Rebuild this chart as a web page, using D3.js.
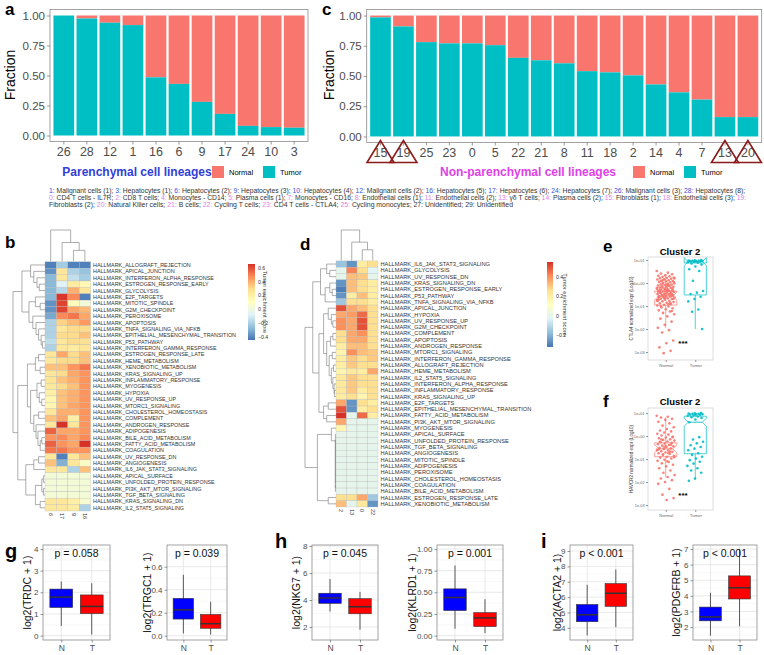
<!DOCTYPE html>
<html><head><meta charset="utf-8">
<script src="https://cdn.jsdelivr.net/npm/d3@7"></script>
<style>body{margin:0;background:#fff}</style>
</head><body>
<script>
// ---------------- DATA ----------------
const aClusters = ['26','28','12','1','16','6','9','17','24','10','3'];
const aTumorFraction = [1.0,0.975,0.94,0.92,0.485,0.43,0.28,0.18,0.08,0.07,0.065];
const cClusters = ['15','19','25','23','0','5','22','21','8','11','18','2','14','4','7','13','20'];
const cTumorFraction = [0.985,0.91,0.78,0.77,0.77,0.755,0.65,0.63,0.605,0.54,0.53,0.505,0.43,0.365,0.305,0.16,0.16];
const cHighlighted = ['15','19','13','20'];
const fractionTicks = [0,0.25,0.5,0.75,1];

const parenchymal = [['1','Malignant cells (1)'],['3','Hepatocytes (1)'],['6','Hepatocytes (2)'],['9','Hepatocytes (3)'],['10','Hepatocytes (4)'],['12','Malignant cells (2)'],['16','Hepatocytes (5)'],['17','Hepatocytes (6)'],['24','Hepatocytes (7)'],['26','Malignant cells (3)'],['28','Hepatocytes (8)']];
const nonParenchymal = [['0','CD4 T cells - IL7R'],['2','CD8 T cells'],['4','Monocytes - CD14'],['5','Plasma cells (1)'],['7','Monocytes - CD16'],['8','Endothelial cells (1)'],['11','Endothelial cells (2)'],['13','γδ T cells'],['14','Plasma cells (2)'],['15','Fibroblasts (1)'],['18','Endothelial cells (3)'],['19','Fibroblasts (2)'],['20','Natural Killer cells'],['21','B cells'],['22','Cycling T cells'],['23','CD4 T cells - CTLA4'],['25','Cycling monocytes']];
const unidentified = [['27','Unidentified'],['29','Unidentified']];

const bRows = ['ALLOGRAFT_REJECTION','APICAL_JUNCTION','INTERFERON_ALPHA_RESPONSE','ESTROGEN_RESPONSE_EARLY','GLYCOLYSIS','E2F_TARGETS','MITOTIC_SPINDLE','G2M_CHECKPOINT','PEROXISOME','APOPTOSIS','TNFA_SIGNALING_VIA_NFKB','EPITHELIAL_MESENCHYMAL_TRANSITION','P53_PATHWAY','INTERFERON_GAMMA_RESPONSE','ESTROGEN_RESPONSE_LATE','HEME_METABOLISM','XENOBIOTIC_METABOLISM','KRAS_SIGNALING_UP','INFLAMMATORY_RESPONSE','MYOGENESIS','HYPOXIA','UV_RESPONSE_UP','MTORC1_SIGNALING','CHOLESTEROL_HOMEOSTASIS','COMPLEMENT','ANDROGEN_RESPONSE','ADIPOGENESIS','BILE_ACID_METABOLISM','FATTY_ACID_METABOLISM','COAGULATION','UV_RESPONSE_DN','ANGIOGENESIS','IL6_JAK_STAT3_SIGNALING','APICAL_SURFACE','UNFOLDED_PROTEIN_RESPONSE','PI3K_AKT_MTOR_SIGNALING','TGF_BETA_SIGNALING','KRAS_SIGNALING_DN','IL2_STAT5_SIGNALING'];
const bCols = ['6','17','9','16'];
const bValues = [
[-0.42,-0.22,-0.42,-0.42],[-0.38,0.25,-0.2,-0.25],[-0.28,0.25,-0.15,-0.22],[-0.28,-0.08,0.22,0.15],
[-0.28,-0.18,0.4,0.25],[-0.28,0.65,0.48,-0.42],[-0.38,0.62,0.12,0.02],[-0.38,0.62,0.42,0.38],
[-0.32,0.48,0.52,0.42],[-0.2,0.32,0.38,0.45],[-0.2,0.25,0.3,0.3],[-0.2,0.3,0.3,0.36],
[-0.16,0.25,0.3,0.28],[-0.2,0.25,0.22,0.26],[0.25,0.42,0.3,0.36],[0.24,0.3,0.3,0.36],
[0.36,0.36,0.46,0.52],[0.25,0.3,0.42,0.46],[0.26,0.36,0.4,0.46],[0.24,0.3,0.36,0.46],
[0.2,0.36,0.4,0.46],[0.16,0.36,0.4,0.46],[0.16,0.36,0.42,0.46],[0.25,0.4,0.4,0.46],
[0.36,0.42,0.2,0.46],[0.25,0.66,0.25,0.46],[0.56,0.42,0.42,0.46],[0.46,0.48,0.42,0.48],
[0.56,0.46,0.42,0.66],[0.52,0.52,0.46,0.46],[0.25,-0.42,0.25,0.36],[0.36,-0.3,0.25,0.08],
[0.25,0.25,-0.2,0.36],[0.03,0.03,0.03,0.03],[0.03,0.03,0.03,0.03],[0.03,0.03,0.03,0.03],
[0.03,0.03,0.03,0.03],[0.25,0.25,0.2,0.05],[0.25,0.25,0.22,-0.2]];
const bRange = [-0.45,0.66];
const bLegendTicks = [-0.4,-0.2,0,0.2,0.4,0.6];
const bRowTree = [1.0,
  [0.72,[0.45,0,[0.35,1,[0.25,2,[0.18,3,4]]]],[0.5,[0.3,5,[0.15,6,7]],[0.38,8,[0.28,9,[0.2,10,[0.12,11,[0.08,12,13]]]]]]],
  [0.85,[0.55,[0.3,[0.2,14,15],[0.15,16,17]],[0.45,[0.25,[0.12,18,19],[0.18,20,[0.1,21,22]]],[0.35,[0.2,23,24],[0.28,25,[0.22,26,[0.15,[0.1,27,28],29]]]]]],
        [0.6,[0.35,[0.2,30,31],32],[0.3,[0.1,[0.05,33,34],[0.05,35,36]],[0.15,37,38]]]]];
const colTree = [1.0,0,[0.6,1,[0.35,2,3]]];

const dRows = ['IL6_JAK_STAT3_SIGNALING','GLYCOLYSIS','UV_RESPONSE_DN','KRAS_SIGNALING_DN','ESTROGEN_RESPONSE_EARLY','P53_PATHWAY','TNFA_SIGNALING_VIA_NFKB','APICAL_JUNCTION','HYPOXIA','UV_RESPONSE_UP','G2M_CHECKPOINT','COMPLEMENT','APOPTOSIS','ANDROGEN_RESPONSE','MTORC1_SIGNALING','INTERFERON_GAMMA_RESPONSE','ALLOGRAFT_REJECTION','HEME_METABOLISM','IL2_STAT5_SIGNALING','INTERFERON_ALPHA_RESPONSE','INFLAMMATORY_RESPONSE','KRAS_SIGNALING_UP','E2F_TARGETS','EPITHELIAL_MESENCHYMAL_TRANSITION','FATTY_ACID_METABOLISM','PI3K_AKT_MTOR_SIGNALING','MYOGENESIS','APICAL_SURFACE','UNFOLDED_PROTEIN_RESPONSE','TGF_BETA_SIGNALING','ANGIOGENESIS','MITOTIC_SPINDLE','ADIPOGENESIS','PEROXISOME','CHOLESTEROL_HOMEOSTASIS','COAGULATION','BILE_ACID_METABOLISM','ESTROGEN_RESPONSE_LATE','XENOBIOTIC_METABOLISM'];
const dCols = ['2','13','0','22'];
const dValues = [
[-0.16,-0.26,0.2,0.26],[0.0,0.42,0.26,-0.02],[0.0,0.32,0.3,0.0],[-0.26,0.32,0.26,0.2],
[-0.3,0.32,0.26,0.2],[-0.26,0.2,0.32,0.2],[-0.15,0.26,0.26,0.2],[0.5,0.36,0.32,0.26],
[0.36,0.38,0.46,0.26],[0.4,0.36,0.5,0.26],[0.4,0.36,0.5,0.26],[0.26,0.36,0.4,0.26],
[0.26,0.36,0.36,0.26],[0.2,0.32,0.32,0.26],[0.16,0.4,0.32,0.3],[0.2,0.3,0.26,0.3],
[0.2,0.3,0.26,0.26],[0.16,0.22,0.2,0.36],[0.22,0.3,0.26,0.26],[0.22,0.3,0.26,0.26],
[0.22,0.3,0.2,0.26],[0.2,0.26,0.16,0.26],[0.36,-0.26,0.26,0.2],[0.5,-0.26,0.2,0.26],
[0.55,0.0,0.46,0.2],[0.36,0.0,0.0,0.0],[0.16,0.0,0.0,0.0],[0,0,0,0],[0,0,0,0],[0,0,0,0],
[0,0,0,0],[0,0,0,0],[0,0,0,0],[0,0,0,0],[0,0,0,0],[0,0,0,0],[0,0,0,0],
[0.26,0.26,0.36,-0.15],[0.32,0.0,0.22,-0.26]];
const dRange = [-0.32,0.55];
const dLegendTicks = [-0.2,0,0.2,0.4];
const dRowTree = [1.0,
  [0.75,[0.5,[0.3,0,[0.2,1,2]],[0.35,[0.2,3,[0.12,4,5]],6]],
        [0.55,[0.4,[0.25,7,[0.15,8,[0.1,9,10]]],[0.3,[0.18,[0.1,11,12],13],[0.22,[0.12,14,15],[0.15,[0.08,16,17],[0.1,18,[0.06,19,[0.05,20,21]]]]]]],[0.4,[0.25,22,23],[0.3,24,25]]]],
  [0.6,[0.15,26,[0.02,27,[0.02,28,[0.02,29,[0.02,30,[0.02,31,[0.02,32,[0.02,33,[0.02,34,[0.02,35,36]]]]]]]]]],[0.25,37,38]]];

// e / f : log10 normalized expression
const eNormal = [0.52,0.45,0.41,0.38,0.33,0.31,0.29,0.27,0.24,0.22,0.21,0.18,0.16,0.15,0.12,0.1,0.09,0.07,0.05,0.03,0.01,-0.02,-0.04,-0.06,-0.07,-0.09,-0.11,-0.13,-0.14,-0.16,-0.18,-0.2,-0.21,-0.23,-0.25,-0.27,-0.28,-0.3,-0.32,-0.34,-0.36,-0.37,-0.39,-0.41,-0.43,-0.45,-0.46,-0.48,-0.5,-0.52,-0.54,-0.56,-0.58,-0.6,-0.62,-0.63,-0.66,-0.68,-0.7,-0.73,-0.75,-0.77,-0.8,-0.83,-0.86,-0.88,-0.91,-0.95,-0.98,-1.02,-1.06,-1.1,-1.14,-1.19,-1.24,-1.3,-1.36,-1.45,-1.55,-1.68,-1.82,-1.95,-2.05,-2.15,-2.5,-2.62,-2.8,-2.95,-3.05,
  -0.22,-0.35,-0.44,-0.51,-0.64,-0.71,-0.12,-0.03,0.04,-0.29,-0.4,-0.55,-0.67,-0.78,-0.92,-0.19,-0.33,-0.47,-0.61,-0.85,0.14,0.2,-0.08,-1.0,-1.22,
  -0.26,-0.38,-0.49,-0.57,-0.69,-0.15,-0.31,-0.42,-0.53,-0.74,-0.05,0.08,-0.24,-0.36,-0.6];
const eTumor = [1.0,0.99,0.98,0.97,0.97,0.96,0.95,0.94,0.93,0.92,0.9,0.88,0.85,0.8,0.72,0.6,0.52,0.1,-0.35,-0.42,-0.48,-0.6,-0.7,-0.8,-1.15,-1.25,-2.0];
const eBoxNormal = [-1.95,-0.96,-0.57,-0.35,0.39];
const eBoxTumor = [-2.0,-0.52,0.93,0.87,1.0];
const fNormal = [0.88,0.84,0.8,0.75,0.7,0.62,0.55,0.45,0.38,0.3,0.24,0.2,0.15,0.1,0.06,0.02,-0.03,-0.07,-0.1,-0.14,-0.17,-0.2,-0.24,-0.27,-0.3,-0.33,-0.36,-0.39,-0.42,-0.45,-0.48,-0.51,-0.54,-0.57,-0.6,-0.63,-0.66,-0.69,-0.72,-0.75,-0.78,-0.82,-0.86,-0.9,-0.94,-0.98,-1.03,-1.08,-1.13,-1.19,-1.25,-1.32,-1.4,-1.5,-1.6,-1.7,-1.78,-1.85,-1.92,-2.0,-2.08,-2.3,-2.55,-2.7,-2.78,
  -0.25,-0.38,-0.5,-0.62,-0.74,-0.15,-0.05,-0.44,-0.56,-0.68,-0.8,-0.92,-1.1];
const fTumor = [1.0,0.99,0.98,0.97,0.96,0.95,0.94,0.93,0.92,0.9,0.88,0.85,0.82,0.78,0.72,0.6,-0.05,-0.15,-0.25,-0.32,-0.4,-0.48,-0.55,-0.62,-0.75,-0.82,-0.9,-0.98,-1.05,-1.12,-1.2,-1.3,-1.4,-1.5,-1.6,-1.85,-1.95];
const fBoxNormal = [-1.8,-0.9,-0.56,-0.3,0.82];
const fBoxTumor = [-1.9,-0.77,0.6,0.86,1.0];
const logTicks = [0.001,0.01,0.1,1,10];
const logTickLabels = ['1e-03','1e-02','1e-01','1e+00','1e+01'];

// g / h / i boxplots: [lowerWhisker, Q1, median, Q3, upperWhisker]
const boxGenes = ['TRDC','TRGC1','NKG7','KLRD1','ACTA2','PDGFRB'];
const boxPvalues = ['p = 0.058','p = 0.039','p = 0.045','p = 0.001','p < 0.001','p < 0.001'];
const boxStatsN = [[0.45,1.3,1.78,2.15,2.5],[0.02,0.145,0.225,0.325,0.53],[3.15,3.75,4.15,4.5,5.55],[0.08,0.29,0.44,0.54,0.81],[3.5,4.4,4.85,5.52,6.8],[1.45,2.4,2.65,3.28,4.2]];
const boxStatsT = [[0.05,1.02,1.35,1.88,2.42],[0.01,0.065,0.105,0.185,0.295],[1.8,2.98,3.5,4.1,4.6],[0.03,0.105,0.205,0.265,0.42],[4.05,5.4,6.25,6.88,7.8],[2.05,3.8,4.52,5.28,7.0]];
const boxTicks = [[0,1,2,3,4],[0,0.2,0.4,0.6],[2,4,6,8],[0,0.25,0.5,0.75,1],[4,5,6,7,8,9],[2,3,4,5,6,7]];
const boxTickFormats = ['d','.1f','d','.2f','d','d'];
const boxDomains = [[-0.2,4.185],[-0.037,0.789],[1.04,8.07],[-0.05,1.046],[3.21,9.39],[1.17,7.26]];

// ---------------- DRAWING ----------------
const FONT = '"Liberation Sans", Arial, Helvetica, sans-serif';
const NORMAL = '#F8766D', TUMOR = '#00BFC4';
const svg = d3.select('body').append('svg').attr('width',764).attr('height',655)
  .attr('font-family',FONT).style('background','#fff');

function label(t,x,y,size){
  svg.append('text').attr('x',x).attr('y',y).attr('font-size',size).attr('font-weight','bold').attr('fill','#000').text(t);
}
function styleAxis(g,fs,col){
  g.select('.domain').remove();
  g.selectAll('text').attr('font-size',fs).attr('fill',col).attr('font-family',FONT);
  g.selectAll('line').attr('stroke','#333').attr('stroke-width',0.5);
}

// ---- fraction bar panels (a, c)
function fractionPanel(o){
  const x = d3.scaleBand().domain(o.clusters).range([o.x0,o.x1]).paddingInner(0.1).paddingOuter(0.15);
  const y = d3.scaleLinear().domain([-0.05,1.05]).range(o.yRange);
  svg.append('rect').attr('x',o.x0).attr('y',y(1.05)).attr('width',o.x1-o.x0).attr('height',y(-0.05)-y(1.05))
    .attr('fill','#fff').attr('stroke','#8c8c8c').attr('stroke-width',0.8);
  const bars = svg.append('g');
  bars.selectAll('rect.n').data(o.clusters).join('rect')
    .attr('x',d=>x(d)).attr('width',x.bandwidth()).attr('y',y(1))
    .attr('height',(d,i)=>y(o.values[i])-y(1)).attr('fill',NORMAL);
  bars.selectAll('rect.t').data(o.clusters).join('rect')
    .attr('x',d=>x(d)).attr('width',x.bandwidth()).attr('y',(d,i)=>y(o.values[i]))
    .attr('height',(d,i)=>y(0)-y(o.values[i])).attr('fill',TUMOR);
  const ay = svg.append('g').attr('transform',`translate(${o.x0},0)`)
    .call(d3.axisLeft(y).tickValues(fractionTicks).tickFormat(d3.format('.2f')).tickSize(3).tickPadding(2));
  styleAxis(ay,11.5,'#4d4d4d');
  const ax = svg.append('g').attr('transform',`translate(0,${y(-0.05)})`)
    .call(d3.axisBottom(x).tickSize(3).tickPadding(3));
  styleAxis(ax,12.5,'#4d4d4d');
  (o.highlight||[]).forEach(c=>{
    const cx = x(c)+x.bandwidth()/2;
    svg.append('path').attr('d',`M${cx},${y(-0.05)-2}L${cx-13.5},${y(-0.05)+20}L${cx+13.5},${y(-0.05)+20}Z`)
      .attr('fill','none').attr('stroke','#8B1A1A').attr('stroke-width',1.6);
  });
  svg.append('text').attr('transform',`translate(${o.ylabX},75) rotate(-90)`).attr('text-anchor','middle')
    .attr('font-size',14).attr('fill','#000').text('Fraction');
  svg.append('text').attr('x',o.titleX).attr('y',176).attr('text-anchor','middle').attr('font-size',12)
    .attr('font-weight','bold').attr('fill',o.titleColor).text(o.title);
  svg.append('rect').attr('x',o.legX).attr('y',166).attr('width',12).attr('height',12).attr('fill',NORMAL);
  svg.append('text').attr('x',o.legX+17).attr('y',175).attr('font-size',7.5).attr('fill','#000').text('Normal');
  svg.append('rect').attr('x',o.legX+51).attr('y',166).attr('width',12).attr('height',12).attr('fill',TUMOR);
  svg.append('text').attr('x',o.legX+68).attr('y',175).attr('font-size',7.5).attr('fill','#000').text('Tumor');
}
label('a',5,15,17);
fractionPanel({clusters:aClusters,values:aTumorFraction,x0:50,x1:308,yRange:[141.5,9.5],ylabX:15,
  title:'Parenchymal cell lineages',titleColor:'#3040D8',titleX:137,legX:212});
label('c',322,15,17);
fractionPanel({clusters:cClusters,values:cTumorFraction,x0:366.7,x1:761.7,yRange:[142.5,9.5],ylabX:334,
  title:'Non-parenchymal cell lineages',titleColor:'#E040E8',titleX:528,legX:633,highlight:cHighlighted});

// ---- cluster legend text
(function(){
  const PB='#3A50D9', NP='#E07FE8', TX='#333';
  const segs=[];
  parenchymal.forEach(([n,t])=>{segs.push([n+': ',PB,1]);segs.push([t+'; ',TX,1]);});
  let line=2;
  nonParenchymal.forEach(([n,t])=>{
    segs.push([n+': ',NP,line]);
    if(n==='19') line=3;
    segs.push([t+'; ',TX,line]);
  });
  unidentified.forEach(([n,t],i)=>{segs.push([n+': ',TX,3]);segs.push([t+(i<unidentified.length-1?'; ':''),TX,3]);});
  const lines=[{y:192.5,len:698},{y:199.5,len:699},{y:206.5,len:464}];
  lines.forEach((L,li)=>{
    const t=svg.append('text').attr('x',49).attr('y',L.y).attr('font-size',6.3).attr('fill',TX).attr('xml:space','preserve');
    if(L.len) t.attr('textLength',L.len).attr('lengthAdjust','spacingAndGlyphs');
    segs.filter(s=>s[2]===li+1).forEach(s=>t.append('tspan').attr('fill',s[1]).text(s[0]));
  });
})();

// ---- heatmaps
const PAL=['#4575B4','#91BFDB','#E0F3F8','#FFFFBF','#FEE090','#FC8D59','#D73027'];
function heatmap(o){
  const color = d3.scaleLinear().domain(d3.range(7).map(i=>o.range[0]+(o.range[1]-o.range[0])*i/6)).range(PAL);
  const xs = d3.scaleBand().domain(o.cols).range([o.x0,o.x0+o.cw*o.cols.length]);
  const ys = d3.scaleBand().domain(o.rows).range([o.y0,o.y0+o.rh*o.rows.length]);
  const g=svg.append('g');
  o.rows.forEach((r,i)=>{
    g.selectAll(null).data(o.values[i]).join('rect')
      .attr('x',(d,j)=>xs(o.cols[j])).attr('y',ys(r)).attr('width',xs.bandwidth()).attr('height',ys.bandwidth())
      .attr('fill',d=>color(d)).attr('stroke','#b5b5b5').attr('stroke-width',0.3);
  });
  g.selectAll('text.r').data(o.rows).join('text').attr('x',o.x0+o.cw*o.cols.length+2.5)
    .attr('y',d=>ys(d)+ys.bandwidth()/2).attr('dominant-baseline','central').attr('font-size',o.fs)
    .attr('fill','#333').text(d=>'HALLMARK_'+d);
  const yb=o.y0+o.rh*o.rows.length;
  g.selectAll('text.c').data(o.cols).join('text')
    .attr('transform',d=>`translate(${xs(d)+xs.bandwidth()/2},${yb+2}) rotate(90)`)
    .attr('dominant-baseline','central').attr('font-size',5.5).attr('fill','#333').text(d=>d);
  const hx = d3.scaleLinear().domain([0,1]).range([o.x0,o.treeX]);
  const leafY = i=>ys(o.rows[i])+ys.bandwidth()/2;
  let path='';
  (function rec(n){
    if(typeof n==='number') return {p:leafY(n),h:0};
    const A=rec(n[1]),B=rec(n[2]); const xn=hx(n[0]);
    path+=`M${hx(A.h)},${A.p}H${xn}V${B.p}H${hx(B.h)}`;
    return {p:(A.p+B.p)/2,h:n[0]};
  })(o.rowTree);
  const hy = d3.scaleLinear().domain([0,1]).range([o.y0-0.5,o.treeY]);
  const leafX = j=>xs(o.cols[j])+xs.bandwidth()/2;
  (function rec(n){
    if(typeof n==='number') return {p:leafX(n),h:0};
    const A=rec(n[1]),B=rec(n[2]); const yn=hy(n[0]);
    path+=`M${A.p},${hy(A.h)}V${yn}H${B.p}V${hy(B.h)}`;
    return {p:(A.p+B.p)/2,h:n[0]};
  })(o.colTree);
  g.append('path').attr('d',path).attr('fill','none').attr('stroke','#777').attr('stroke-width',0.6);
  const ly = d3.scaleLinear().domain(o.range).range([o.legY1,o.legY0]);
  const gid='grad'+o.id;
  const grad=svg.append('defs').append('linearGradient').attr('id',gid).attr('x1',0).attr('y1',1).attr('x2',0).attr('y2',0);
  PAL.forEach((c,i)=>grad.append('stop').attr('offset',i/6).attr('stop-color',c));
  g.append('rect').attr('x',o.legX).attr('y',o.legY0).attr('width',o.legW).attr('height',o.legY1-o.legY0).attr('fill',`url(#${gid})`);
  g.selectAll('text.l').data(o.legTicks).join('text').attr('x',o.legX+o.legW+3).attr('y',d=>ly(d))
    .attr('dominant-baseline','central').attr('font-size',5.2).attr('fill','#333').text(d=>d===0?'0':d3.format('.1f')(d));
  g.append('text').attr('transform',`translate(${o.legTitleX},${(o.legY0+o.legY1)/2}) rotate(90)`)
    .attr('text-anchor','middle').attr('font-size',5.8).attr('fill','#333').text('Tumor enrichment score');
}
label('b',5,248,17);
heatmap({id:'b',rows:bRows,cols:bCols,values:bValues,range:bRange,x0:45,cw:11.4,y0:261.8,rh:6.39,fs:5.4,
  treeX:13,treeY:230,rowTree:bRowTree,colTree:colTree,legX:248,legW:7,legY0:264,legY1:340,legTicks:bLegendTicks,legTitleX:263});
label('d',300,250,17);
heatmap({id:'d',rows:dRows,cols:dCols,values:dValues,range:dRange,x0:336,cw:10.5,y0:260.9,rh:6.31,fs:5.7,
  treeX:305,treeY:230,rowTree:dRowTree,colTree:colTree,legX:547,legW:6,legY0:262,legY1:347,legTicks:dLegendTicks,legTitleX:563});

// ---- e / f scatter boxplots
function notchBox(g,cx,w,y,s,col){
  const x0=cx-w/2,x1=cx+w/2,n=4,ind=4;
  const q1=y(Math.pow(10,s[1])),md=y(Math.pow(10,s[2])),q3=y(Math.pow(10,s[3]));
  const hi=y(Math.pow(10,s[4])),lo=y(Math.pow(10,s[0]));
  g.append('line').attr('x1',cx).attr('x2',cx).attr('y1',hi).attr('y2',q3).attr('stroke',col).attr('stroke-width',0.7);
  g.append('line').attr('x1',cx).attr('x2',cx).attr('y1',q1).attr('y2',lo).attr('stroke',col).attr('stroke-width',0.7);
  g.append('path').attr('d',`M${x0},${q3}H${x1}V${md-n}L${x1-ind},${md}L${x1},${md+n}V${q1}H${x0}V${md+n}L${x0+ind},${md}L${x0},${md-n}Z`)
    .attr('fill','none').attr('stroke',col).attr('stroke-width',0.7);
  g.append('line').attr('x1',x0+ind).attr('x2',x1-ind).attr('y1',md).attr('y2',md).attr('stroke',col).attr('stroke-width',0.9);
}
function clusterPanel(o){
  const g=svg.append('g');
  const x=d3.scalePoint().domain(['Normal','Tumor']).range([648,713]).padding(0.6);
  const y=d3.scaleLog().domain([0.001,10]).range([o.y3,o.y1]);
  g.append('rect').attr('x',648).attr('y',o.top).attr('width',65).attr('height',o.bot-o.top).attr('fill','#fff').attr('stroke','#cfcfcf').attr('stroke-width',0.7);
  const bw=x.step()*0.75;
  notchBox(g,x('Normal'),bw,y,o.boxN,NORMAL);
  notchBox(g,x('Tumor'),bw,y,o.boxT,TUMOR);
  const jit=i=>(((i*0.6180339887)%1)-0.5)*18;
  g.selectAll('circle.n').data(o.normal).join('circle').attr('cx',(d,i)=>x('Normal')+jit(i)).attr('cy',d=>y(Math.pow(10,d)))
    .attr('r',1.3).attr('fill',NORMAL).attr('opacity',0.9);
  g.selectAll('circle.t').data(o.tumor).join('circle').attr('cx',(d,i)=>x('Tumor')+jit(i+3)*0.9).attr('cy',d=>y(Math.pow(10,d)))
    .attr('r',1.3).attr('fill',TUMOR).attr('opacity',0.9);
  const ay=g.append('g').attr('transform','translate(648,0)').call(d3.axisLeft(y).tickValues(logTicks).tickFormat((d,i)=>logTickLabels[i]).tickSize(2).tickPadding(1.5));
  styleAxis(ay,3.8,'#666');
  const ax=g.append('g').attr('transform',`translate(0,${o.bot})`).call(d3.axisBottom(x).tickSize(2).tickPadding(1.5));
  styleAxis(ax,4.3,'#666');
  g.append('text').attr('x',680).attr('y',o.titleY).attr('text-anchor','middle').attr('font-size',9.5).attr('font-weight','bold').text('Cluster 2');
  g.append('text').attr('transform',`translate(633,${(o.top+o.bot)/2}) rotate(-90)`).attr('text-anchor','middle')
    .attr('font-size',4.5).attr('fill','#333').text(o.ylab);
  g.append('text').attr('x',683).attr('y',o.starY).attr('text-anchor','middle').attr('font-size',8).attr('font-weight','bold').text('***');
}
label('e',603,252,17);
clusterPanel({top:257,bot:360,y1:260,y3:352,normal:eNormal,tumor:eTumor,boxN:eBoxNormal,boxT:eBoxTumor,titleY:255,
  ylab:'CTLA4 normalized expr (Log10)',starY:346});
label('f',603,407,17);
clusterPanel({top:408,bot:510,y1:413,y3:505,normal:fNormal,tumor:fTumor,boxN:fBoxNormal,boxT:fBoxTumor,titleY:405,
  ylab:'HAVCR2 normalized expr (Log10)',starY:498});

// ---- g / h / i boxplots
const boxFrames=[[43,110,31],[167,227,151],[312,378,300],[437,503,416],[570,633,561],[693,757,680]];
function boxPanel(k){
  const [x0,x1,lx]=boxFrames[k], top=545, bot=640;
  const g=svg.append('g');
  const x=d3.scalePoint().domain(['N','T']).range([x0,x1]).padding(0.6);
  const y=d3.scaleLinear().domain(boxDomains[k]).range([bot,top]);
  g.append('rect').attr('x',x0).attr('y',top).attr('width',x1-x0).attr('height',bot-top).attr('fill','#fff');
  const t=boxTicks[k];
  const minor=[]; for(let i=0;i<t.length-1;i++) minor.push((t[i]+t[i+1])/2);
  const st=t[1]-t[0]; minor.push(t[0]-st/2, t[t.length-1]+st/2);
  g.selectAll('line.mi').data(minor.filter(v=>v>boxDomains[k][0]&&v<boxDomains[k][1])).join('line')
    .attr('x1',x0).attr('x2',x1).attr('y1',d=>y(d)).attr('y2',d=>y(d)).attr('stroke','#f1f1f1').attr('stroke-width',0.5);
  g.selectAll('line.ma').data(t).join('line').attr('x1',x0).attr('x2',x1).attr('y1',d=>y(d)).attr('y2',d=>y(d))
    .attr('stroke','#e3e3e3').attr('stroke-width',0.8);
  g.selectAll('line.v').data(['N','T']).join('line').attr('x1',d=>x(d)).attr('x2',d=>x(d)).attr('y1',top).attr('y2',bot)
    .attr('stroke','#e3e3e3').attr('stroke-width',0.8);
  const bw=x.step()*0.75;
  [['N',boxStatsN[k],'#0000FF'],['T',boxStatsT[k],'#FF0000']].forEach(([c,s,col])=>{
    const cx=x(c);
    g.append('line').attr('x1',cx).attr('x2',cx).attr('y1',y(s[4])).attr('y2',y(s[0])).attr('stroke','#333').attr('stroke-width',0.8);
    g.append('rect').attr('x',cx-bw/2).attr('width',bw).attr('y',y(s[3])).attr('height',y(s[1])-y(s[3]))
      .attr('fill',col).attr('stroke','#333').attr('stroke-width',0.6);
    g.append('line').attr('x1',cx-bw/2).attr('x2',cx+bw/2).attr('y1',y(s[2])).attr('y2',y(s[2])).attr('stroke','#333').attr('stroke-width',1.5);
  });
  g.append('rect').attr('x',x0).attr('y',top).attr('width',x1-x0).attr('height',bot-top).attr('fill','none').attr('stroke','#8c8c8c').attr('stroke-width',0.8);
  const fmt=boxTickFormats[k];
  const ay=g.append('g').attr('transform',`translate(${x0},0)`).call(d3.axisLeft(y).tickValues(t).tickFormat(d3.format(fmt)).tickSize(2.5).tickPadding(2));
  styleAxis(ay,8,'#4d4d4d');
  const ax=g.append('g').attr('transform',`translate(0,${bot})`).call(d3.axisBottom(x).tickSize(2.5).tickPadding(2));
  styleAxis(ax,8.5,'#4d4d4d');
  g.append('text').attr('x',(x0+x1)/2).attr('y',557).attr('text-anchor','middle').attr('font-size',10.5).attr('fill','#111').text(boxPvalues[k]);
  g.append('text').attr('transform',`translate(${lx},${(top+bot)/2}) rotate(-90)`).attr('text-anchor','middle')
    .attr('font-size',10.5).attr('fill','#111').text(`log2(${boxGenes[k]} + 1)`);
}
label('g',5,558,20);
label('h',275,548,20);
label('i',541,548,20);
for(let k=0;k<6;k++) boxPanel(k);
</script>
</body></html>
